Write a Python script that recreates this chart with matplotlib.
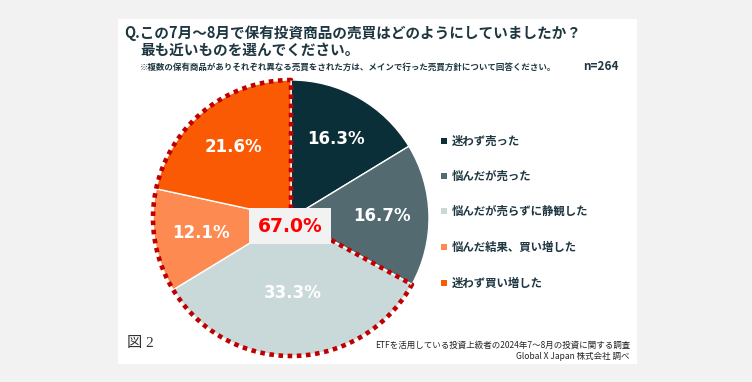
import numpy as np
import matplotlib
matplotlib.use("Agg")
import matplotlib.pyplot as plt
from matplotlib.patches import Rectangle

# ---- data ----
categories = ["迷わず売った", "悩んだが売った", "悩んだが売らずに静観した",
              "悩んだ結果、買い増した", "迷わず買い増した"]
values = [16.3, 16.7, 33.3, 12.1, 21.6]
colors = ["#0b2f38", "#536b70", "#c9d9d9", "#fd8a50", "#fb5a04"]
highlight = [2, 3, 4]  # slices inside the dotted outline

title1 = "Q.この7月～8月で保有投資商品の売買はどのようにしていましたか？"
title2 = "最も近いものを選んでください。"
note = "※複数の保有商品がありそれぞれ異なる売買をされた方は、メインで行った売買方針について回答ください。"
n_label = "n=264"
fig_label = "図 2"
source1 = "ETFを活用している投資上級者の2024年7～8月の投資に関する調査"
source2 = "Global X Japan 株式会社 調べ"

JP = ["Noto Sans CJK JP", "DejaVu Sans"]
TXT = "#1d3640"
W, H = 752, 382


def Y(p):
    # pixel row (from top) -> data y
    return H - p


fig = plt.figure(figsize=(W / 100, H / 100), dpi=100, facecolor="#f2f2f2")
ax = fig.add_axes([0, 0, 1, 1])

# white panel
ax.add_patch(Rectangle((118, Y(364)), 519, 345, facecolor="white",
                       edgecolor="none", zorder=0))

# ---- pie ----
cx, cy, R = 291, Y(218), 138
wedges, _, autotexts = ax.pie(
    values, colors=colors, startangle=90, counterclock=False,
    center=(cx, cy), radius=R, autopct="%.1f%%", pctdistance=0.66,
    wedgeprops=dict(edgecolor="white", linewidth=1),
    textprops=dict(color="white", fontsize=12, fontweight="bold",
                   family="DejaVu Sans"))
for w in wedges:
    w.set_zorder(2)
for t in autotexts:
    t.set_zorder(5)

# larger slice label sits closer to the center
mid = 90 - 3.6 * (sum(values[:2]) + values[2] / 2)
autotexts[2].set_position((cx + 0.54 * R * np.cos(np.radians(mid)),
                           cy + 0.54 * R * np.sin(np.radians(mid))))

# ---- dotted outline around highlighted slices ----
a_end = 90 - 3.6 * sum(values[:highlight[0]])  # boundary angle (deg)
theta = np.radians(np.linspace(a_end, -270, 300))
xs = np.concatenate([[cx], cx + R * np.cos(theta), [cx]])
ys = np.concatenate([[cy], cy + R * np.sin(theta), [cy]])
ax.plot(xs, ys, color="#c00000", lw=3.3, linestyle=(0, (1, 1)),
        solid_capstyle="butt", zorder=3)

# center total
total = sum(values[i] for i in highlight)
ax.text(290, Y(226), f"{total:.1f}%", color="#ff0000", fontsize=13.5,
        fontweight="bold", family="DejaVu Sans", ha="center", va="center",
        zorder=6,
        bbox=dict(boxstyle="square,pad=0.45", facecolor="#f2f2f2",
                  edgecolor="none"))

ax.set_xlim(0, W)
ax.set_ylim(0, H)
ax.set_aspect("equal")
ax.axis("off")

# ---- legend ----
leg_y = [141, 176, 211, 247, 283]
for lab, col, yy in zip(categories, colors, leg_y):
    ax.add_patch(Rectangle((441, Y(yy) - 3), 6, 6, facecolor=col,
                           edgecolor="none", zorder=4))
    ax.text(452, Y(yy), lab, color=TXT, fontsize=8.2, fontweight="bold",
            family=JP, ha="left", va="center")

# ---- titles ----
ax.text(124, Y(33), title1, color=TXT, fontsize=10.5, fontweight="bold",
        family=JP, ha="left", va="center")
ax.text(140, Y(50), title2, color=TXT, fontsize=10.5, fontweight="bold",
        family=JP, ha="left", va="center")
ax.text(140, Y(67), note, color=TXT, fontsize=6.1, fontweight="bold",
        family=JP, ha="left", va="center")
ax.text(583, Y(67), n_label, color=TXT, fontsize=8.5, fontweight="bold",
        family=JP, ha="left", va="center")

# ---- footer ----
ax.text(127, Y(344), fig_label, color="#333333", fontsize=11,
        family=["Liberation Serif", "Noto Sans CJK JP"], ha="left",
        va="center")
ax.text(630, Y(345), source1, color="#222222", fontsize=6.1, family=JP,
        ha="right", va="center")
ax.text(630, Y(356), source2, color="#222222", fontsize=6.1, family=JP,
        ha="right", va="center")

fig.savefig("out.png", dpi=100, facecolor=fig.get_facecolor())
